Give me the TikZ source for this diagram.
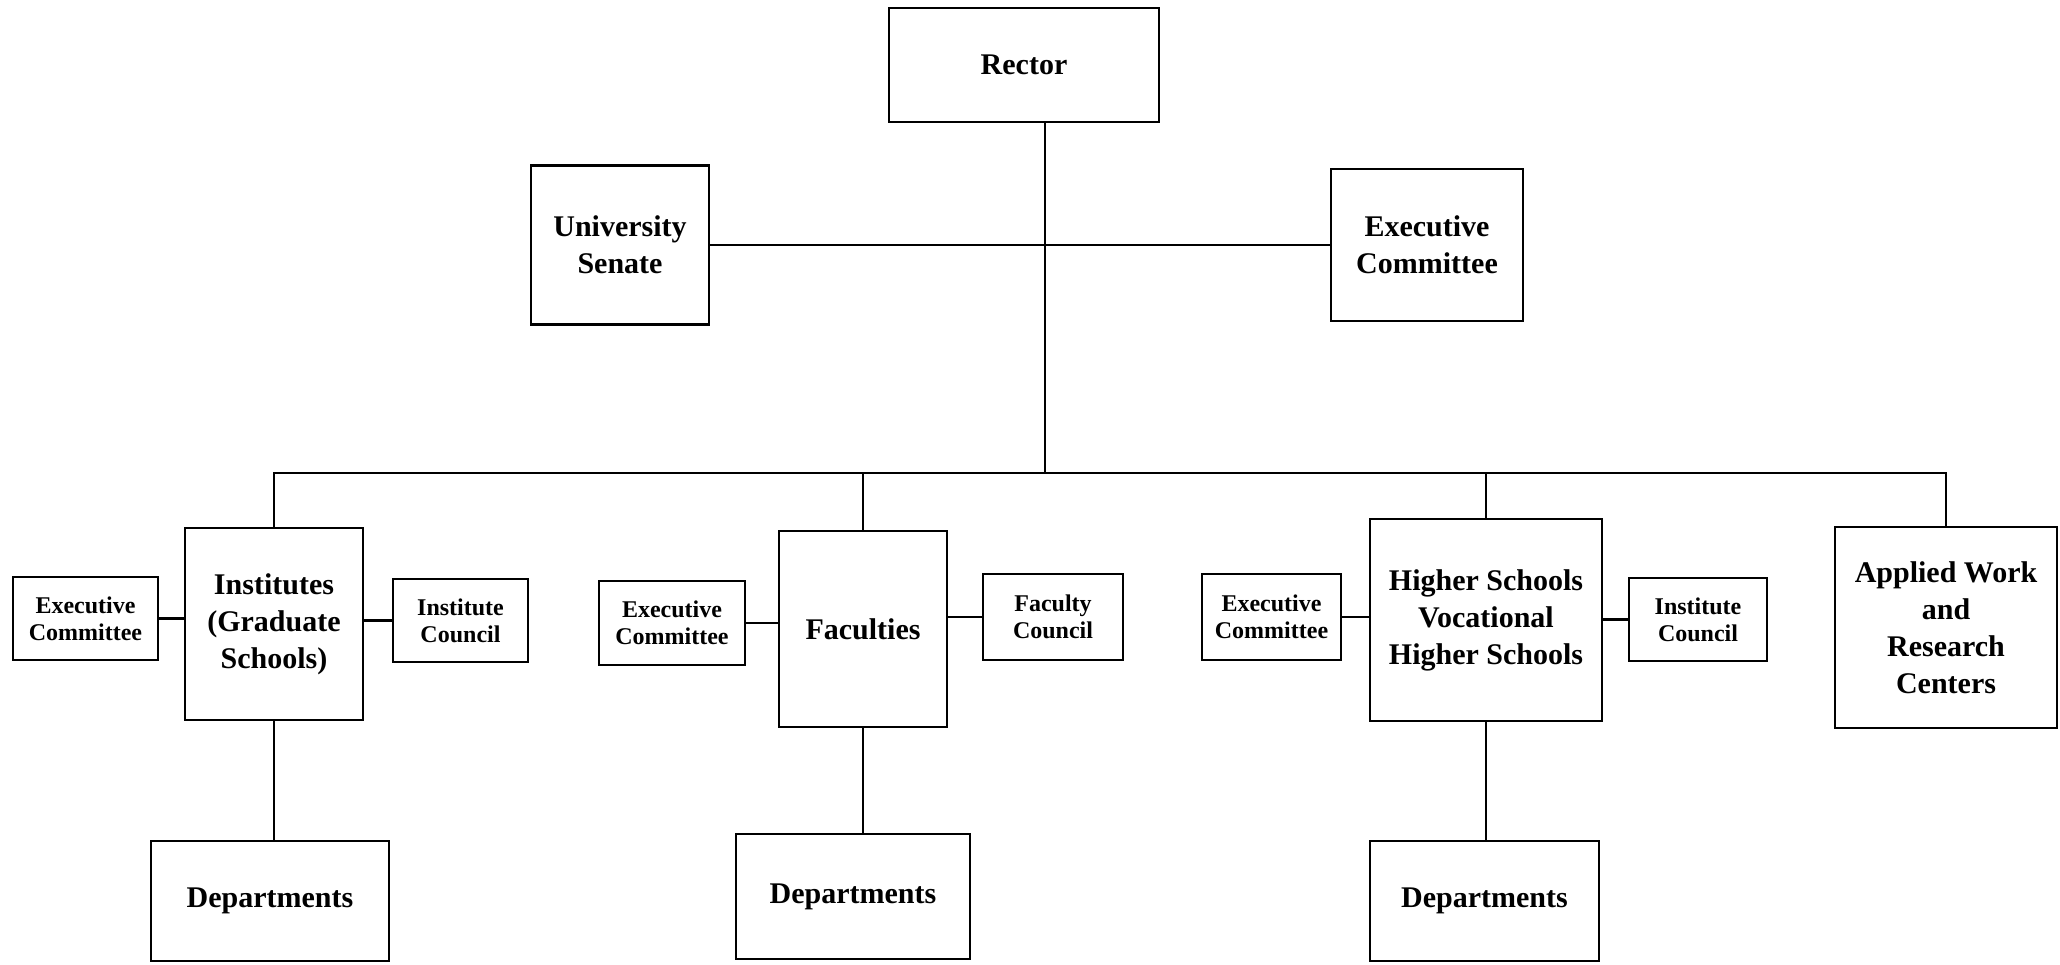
\documentclass[tikz,border=0pt]{standalone}
\usepackage{fontspec}
\setmainfont{Liberation Serif}
\begin{document}
\begin{tikzpicture}[x=1pt,y=-1pt,
  box/.style={draw=black, line width=2.4pt, inner sep=0pt, align=center,
    font=\fontsize{30}{37}\selectfont\bfseries},
  smallbox/.style={box, font=\fontsize{24}{27}\selectfont\bfseries},
  link/.style={draw=black, line width=2.4pt}]
\useasboundingbox (0,0) rectangle (2060,964);
% top level
\node[box, minimum width=270, minimum height=114] (rector) at (1024,65) {Rector};
\node[box, minimum width=178, minimum height=159] (senate) at (620,245) {University\\Senate};
\node[box, minimum width=192, minimum height=152] (exectop) at (1427,245) {Executive\\Committee};
% second level
\node[box, minimum width=178, minimum height=192] (inst) at (274,624) {Institutes\\(Graduate\\Schools)};
\node[smallbox, minimum width=145, minimum height=83] (ec1) at (85.5,618.5) {Executive\\Committee};
\node[smallbox, minimum width=135, minimum height=83] (ic1) at (460.5,620.5) {Institute\\Council};
\node[box, minimum width=168, minimum height=196] (fac) at (863,629) {Faculties};
\node[smallbox, minimum width=146, minimum height=84] (ec2) at (672,623) {Executive\\Committee};
\node[smallbox, minimum width=140, minimum height=86] (fc) at (1053,617) {Faculty\\Council};
\node[box, minimum width=232, minimum height=202] (hs) at (1486,620) {Higher Schools\\Vocational\\Higher Schools};
\node[smallbox, minimum width=139, minimum height=86] (ec3) at (1271.5,617) {Executive\\Committee};
\node[smallbox, minimum width=138, minimum height=83] (ic3) at (1698,619.5) {Institute\\Council};
\node[box, minimum width=222, minimum height=201] (app) at (1946,627.5) {Applied Work\\and\\Research\\Centers};
% departments
\node[box, minimum width=238, minimum height=120] (dep1) at (270,901) {Departments};
\node[box, minimum width=234, minimum height=125] (dep2) at (853,896.5) {Departments};
\node[box, minimum width=229, minimum height=120] (dep3) at (1484.5,901) {Departments};
% connectors
\coordinate (bus) at (1045,473);
\draw[link] (bus |- rector.south) -- (bus);
\draw[link] (senate.east) -- (senate.east -| exectop.west);
\draw[link] (inst.north) |- (bus);
\draw[link] (app.north) |- (bus);
\draw[link] (fac.north) -- (fac.north |- bus);
\draw[link] (hs.north) -- (hs.north |- bus);
\draw[link] (ec1.east) -- (ec1.east -| inst.west);
\draw[link] (ic1.west) -- (ic1.west -| inst.east);
\draw[link] (ec2.east) -- (ec2.east -| fac.west);
\draw[link] (fc.west) -- (fc.west -| fac.east);
\draw[link] (ec3.east) -- (ec3.east -| hs.west);
\draw[link] (ic3.west) -- (ic3.west -| hs.east);
\draw[link] (inst.south) -- (inst.south |- dep1.north);
\draw[link] (fac.south) -- (fac.south |- dep2.north);
\draw[link] (hs.south) -- (hs.south |- dep3.north);
\end{tikzpicture}
\end{document}
